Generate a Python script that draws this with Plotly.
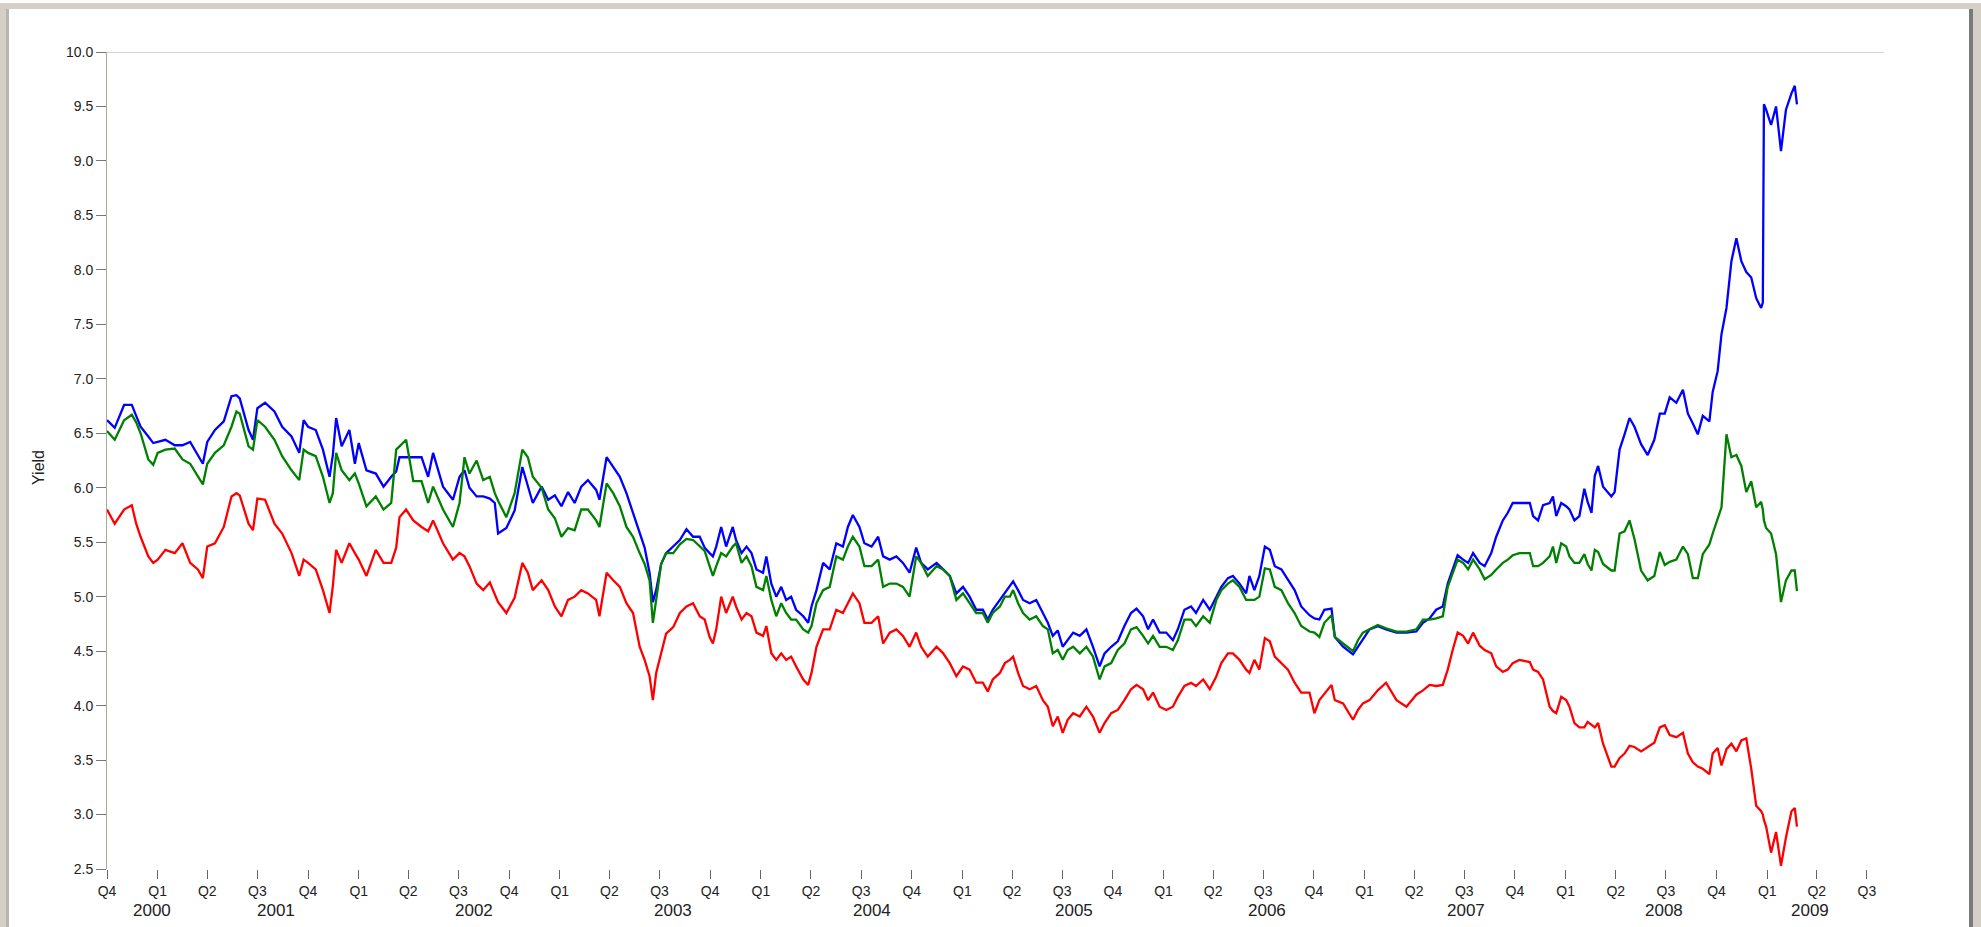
import plotly.graph_objects as go
import pandas as pd

START = pd.Timestamp("2000-10-01")
END = pd.Timestamp("2009-08-01")

# sample days counted from START, shared by the three series
DAYS = [
    0, 14, 31, 45, 53, 61, 75, 84, 92, 106, 123, 137, 151, 165, 174, 182, 196, 212, 226, 235,
    241, 257, 265, 273, 287, 304, 318, 335, 349, 357, 365, 379, 392, 404, 410, 416, 426, 440, 450, 457,
    471, 488, 502, 516, 525,
    531, 543, 556, 571, 583, 592, 610, 628, 640, 649, 658, 671, 683, 695, 704, 710, 725, 740, 754, 764,
    773, 789, 801, 813, 825, 837, 849, 861, 873, 888, 894, 907, 919, 931, 943, 955, 967, 976, 985, 991,
    997, 1006, 1015, 1028, 1040, 1052, 1064, 1076, 1085, 1094,
    1100, 1106, 1115, 1124, 1136, 1142, 1152, 1161, 1170, 1179, 1191, 1197, 1206, 1215, 1224, 1233, 1242, 1251, 1264, 1273,
    1279, 1288, 1300, 1312, 1324, 1336, 1345, 1354, 1366, 1375, 1388, 1400, 1409, 1421, 1433, 1445, 1457, 1469, 1478, 1490,
    1506, 1518, 1530, 1542, 1554, 1566, 1578, 1590, 1599, 1608, 1621, 1630, 1639,
    1645, 1654, 1663, 1675, 1687, 1699, 1708, 1717, 1726, 1735, 1744, 1754, 1766, 1778, 1790, 1802, 1811, 1823, 1835, 1847,
    1859, 1869, 1881, 1890, 1899, 1911, 1923, 1935, 1944, 1956, 1968, 1977, 1990, 2002, 2014, 2023, 2035, 2044, 2056, 2068,
    2074, 2083, 2092, 2102, 2111, 2120, 2132, 2144, 2156, 2168, 2183,
    2192, 2201, 2210, 2223, 2229, 2244, 2262, 2271, 2280, 2292, 2307, 2322, 2341, 2359, 2377, 2389, 2401, 2413, 2425, 2434,
    2443, 2452, 2462, 2471, 2480, 2492, 2501, 2513, 2522, 2534, 2543, 2552, 2564, 2583, 2589, 2598, 2607, 2619, 2625, 2631,
    2640, 2649, 2655, 2664, 2673,
    2682, 2688, 2695, 2701, 2707, 2716, 2731, 2737, 2746, 2755, 2764, 2773, 2785, 2797, 2809, 2819, 2828, 2837, 2849, 2861,
    2870, 2879, 2888, 2897, 2909, 2915, 2924, 2931, 2940, 2949, 2958, 2967, 2976, 2985, 2994, 3003, 3006, 3008, 3012, 3021,
    3030, 3039, 3048, 3058, 3064, 3068,
]

BLUE = [
    6.62, 6.55, 6.76, 6.76, 6.66, 6.56, 6.47, 6.41, 6.42, 6.44, 6.39, 6.39, 6.42, 6.29, 6.22, 6.42, 6.53, 6.61, 6.84, 6.85,
    6.82, 6.53, 6.44, 6.73, 6.78, 6.70, 6.56, 6.47, 6.32, 6.62, 6.56, 6.53, 6.35, 6.10, 6.30, 6.64, 6.38, 6.53, 6.22, 6.41,
    6.16, 6.13, 6.01, 6.10, 6.15,
    6.28, 6.28, 6.28, 6.28, 6.10, 6.32, 6.01, 5.89, 6.10, 6.16, 6.00, 5.92, 5.92, 5.90, 5.86, 5.58, 5.63, 5.79, 6.19, 6.01,
    5.86, 6.01, 5.89, 5.93, 5.83, 5.96, 5.86, 6.01, 6.07, 5.98, 5.89, 6.28, 6.19, 6.10, 5.95, 5.77, 5.58, 5.45, 5.22, 4.95,
    5.06, 5.30, 5.40, 5.46, 5.52, 5.62, 5.55, 5.55, 5.45, 5.40,
    5.37, 5.46, 5.64, 5.46, 5.64, 5.52, 5.40, 5.46, 5.40, 5.25, 5.22, 5.37, 5.12, 5.00, 5.09, 4.97, 5.00, 4.88, 4.82, 4.76,
    4.91, 5.06, 5.31, 5.25, 5.49, 5.46, 5.64, 5.75, 5.64, 5.49, 5.46, 5.55, 5.37, 5.34, 5.37, 5.31, 5.22, 5.45, 5.31, 5.25,
    5.31, 5.25, 5.19, 5.03, 5.09, 5.00, 4.88, 4.88, 4.79, 4.88, 4.97, 5.03, 5.09,
    5.14, 5.06, 4.97, 4.94, 4.97, 4.85, 4.76, 4.64, 4.69, 4.54, 4.60, 4.67, 4.64, 4.70, 4.54, 4.36, 4.48, 4.54, 4.59, 4.73,
    4.85, 4.89, 4.82, 4.70, 4.79, 4.67, 4.67, 4.60, 4.70, 4.88, 4.91, 4.85, 4.97, 4.88, 5.00, 5.09, 5.17, 5.19, 5.12, 5.03,
    5.19, 5.06, 5.19, 5.46, 5.43, 5.28, 5.25, 5.15, 5.06, 4.91, 4.83,
    4.80, 4.79, 4.88, 4.89, 4.63, 4.54, 4.47, 4.54, 4.60, 4.70, 4.73, 4.70, 4.67, 4.67, 4.68, 4.76, 4.80, 4.88, 4.91, 5.12,
    5.25, 5.38, 5.34, 5.31, 5.40, 5.31, 5.28, 5.40, 5.55, 5.70, 5.77, 5.86, 5.86, 5.86, 5.74, 5.70, 5.84, 5.86, 5.92, 5.74,
    5.86, 5.83, 5.80, 5.70, 5.74,
    5.99, 5.87, 5.77, 6.11, 6.20, 6.01, 5.92, 5.96, 6.35, 6.49, 6.64, 6.56, 6.40, 6.30, 6.44, 6.68, 6.68, 6.83, 6.78, 6.90,
    6.68, 6.59, 6.49, 6.66, 6.61, 6.88, 7.07, 7.41, 7.65, 8.08, 8.29, 8.08, 7.98, 7.93, 7.74, 7.65, 7.70, 9.52, 9.47, 9.33,
    9.50, 9.09, 9.47, 9.62, 9.69, 9.52,
]

GREEN = [
    6.52, 6.44, 6.62, 6.67, 6.60, 6.50, 6.26, 6.21, 6.32, 6.35, 6.36, 6.26, 6.22, 6.10, 6.03, 6.22, 6.32, 6.39, 6.56, 6.70,
    6.68, 6.38, 6.35, 6.62, 6.56, 6.44, 6.29, 6.16, 6.07, 6.35, 6.32, 6.29, 6.10, 5.86, 5.95, 6.32, 6.16, 6.07, 6.13, 6.04,
    5.83, 5.92, 5.80, 5.86, 6.35,
    6.38, 6.44, 6.06, 6.06, 5.86, 6.01, 5.80, 5.64, 5.86, 6.28, 6.13, 6.25, 6.07, 6.10, 5.95, 5.88, 5.73, 5.95, 6.35, 6.28,
    6.10, 6.00, 5.80, 5.72, 5.55, 5.63, 5.61, 5.80, 5.80, 5.70, 5.64, 6.04, 5.95, 5.83, 5.64, 5.55, 5.40, 5.30, 5.15, 4.76,
    4.97, 5.30, 5.40, 5.40, 5.48, 5.53, 5.52, 5.46, 5.42, 5.28,
    5.19, 5.28, 5.40, 5.37, 5.46, 5.49, 5.31, 5.37, 5.28, 5.09, 5.06, 5.19, 4.97, 4.82, 4.94, 4.85, 4.79, 4.79, 4.70, 4.67,
    4.73, 4.94, 5.06, 5.09, 5.37, 5.34, 5.46, 5.55, 5.46, 5.28, 5.28, 5.34, 5.09, 5.12, 5.12, 5.09, 5.00, 5.37, 5.31, 5.19,
    5.28, 5.25, 5.19, 4.97, 5.03, 4.94, 4.85, 4.85, 4.76, 4.85, 4.91, 5.00, 5.00,
    5.06, 4.94, 4.85, 4.79, 4.82, 4.73, 4.70, 4.48, 4.51, 4.42, 4.51, 4.54, 4.48, 4.54, 4.45, 4.24, 4.36, 4.39, 4.51, 4.57,
    4.70, 4.72, 4.64, 4.57, 4.64, 4.54, 4.54, 4.51, 4.60, 4.79, 4.79, 4.73, 4.82, 4.76, 4.97, 5.06, 5.12, 5.15, 5.09, 4.97,
    4.97, 4.97, 5.00, 5.26, 5.25, 5.09, 5.06, 4.94, 4.85, 4.73, 4.68,
    4.67, 4.63, 4.76, 4.83, 4.63, 4.57, 4.50, 4.60, 4.67, 4.70, 4.74, 4.71, 4.68, 4.68, 4.70, 4.79, 4.79, 4.80, 4.82, 5.09,
    5.22, 5.34, 5.31, 5.25, 5.34, 5.25, 5.16, 5.20, 5.25, 5.31, 5.34, 5.38, 5.40, 5.40, 5.28, 5.28, 5.31, 5.37, 5.46, 5.31,
    5.49, 5.46, 5.37, 5.31, 5.31,
    5.39, 5.30, 5.24, 5.43, 5.41, 5.30, 5.24, 5.24, 5.58, 5.60, 5.70, 5.53, 5.24, 5.15, 5.19, 5.41, 5.29, 5.32, 5.34, 5.46,
    5.39, 5.17, 5.17, 5.39, 5.48, 5.58, 5.72, 5.82, 6.49, 6.28, 6.30, 6.20, 5.96, 6.06, 5.82, 5.87, 5.80, 5.70, 5.63, 5.58,
    5.39, 4.95, 5.15, 5.24, 5.24, 5.05,
]

RED = [
    5.80, 5.67, 5.80, 5.84, 5.67, 5.55, 5.37, 5.31, 5.34, 5.43, 5.40, 5.49, 5.31, 5.25, 5.17, 5.46, 5.49, 5.64, 5.92, 5.95,
    5.93, 5.67, 5.61, 5.90, 5.89, 5.67, 5.58, 5.40, 5.19, 5.34, 5.31, 5.25, 5.06, 4.85, 5.10, 5.43, 5.31, 5.49, 5.40, 5.34,
    5.19, 5.43, 5.31, 5.31, 5.45,
    5.73, 5.80, 5.70, 5.64, 5.60, 5.70, 5.49, 5.34, 5.40, 5.37, 5.28, 5.12, 5.06, 5.13, 5.03, 4.95, 4.85, 4.99, 5.31, 5.22,
    5.06, 5.15, 5.06, 4.91, 4.82, 4.97, 5.00, 5.06, 5.03, 4.97, 4.82, 5.22, 5.15, 5.09, 4.94, 4.85, 4.54, 4.42, 4.27, 4.05,
    4.30, 4.48, 4.66, 4.72, 4.85, 4.91, 4.94, 4.82, 4.79, 4.63,
    4.57, 4.70, 5.00, 4.85, 5.00, 4.91, 4.79, 4.85, 4.82, 4.67, 4.64, 4.73, 4.48, 4.42, 4.48, 4.42, 4.45, 4.36, 4.24, 4.19,
    4.30, 4.54, 4.70, 4.70, 4.88, 4.85, 4.94, 5.03, 4.94, 4.76, 4.76, 4.82, 4.57, 4.67, 4.70, 4.64, 4.54, 4.67, 4.54, 4.45,
    4.54, 4.48, 4.39, 4.27, 4.36, 4.33, 4.21, 4.21, 4.13, 4.24, 4.30, 4.39, 4.42,
    4.45, 4.30, 4.18, 4.15, 4.18, 4.05, 3.99, 3.81, 3.90, 3.75, 3.87, 3.93, 3.90, 3.99, 3.90, 3.75, 3.84, 3.93, 3.96, 4.05,
    4.15, 4.19, 4.15, 4.05, 4.12, 3.99, 3.96, 3.99, 4.08, 4.18, 4.21, 4.18, 4.24, 4.15, 4.27, 4.39, 4.48, 4.48, 4.42, 4.33,
    4.30, 4.42, 4.33, 4.62, 4.59, 4.45, 4.39, 4.33, 4.21, 4.12, 4.12,
    3.93, 4.05, 4.11, 4.19, 4.05, 4.02, 3.87, 3.96, 4.02, 4.05, 4.14, 4.21, 4.05, 3.99, 4.10, 4.14, 4.19, 4.18, 4.19, 4.33,
    4.51, 4.67, 4.64, 4.57, 4.67, 4.55, 4.51, 4.48, 4.36, 4.31, 4.33, 4.39, 4.42, 4.40, 4.33, 4.31, 4.24, 3.99, 3.95, 3.93,
    4.08, 4.05, 3.99, 3.84, 3.80,
    3.80, 3.85, 3.82, 3.80, 3.84, 3.65, 3.44, 3.44, 3.52, 3.56, 3.63, 3.62, 3.58, 3.62, 3.66, 3.80, 3.82, 3.73, 3.71, 3.75,
    3.56, 3.48, 3.44, 3.42, 3.37, 3.56, 3.61, 3.45, 3.60, 3.65, 3.58, 3.68, 3.70, 3.42, 3.08, 3.03, 3.00, 2.95, 2.89, 2.65,
    2.84, 2.53, 2.79, 3.03, 3.06, 2.89,
]

YEARS = ["2000", "2001", "2002", "2003", "2004", "2005", "2006", "2007", "2008", "2009"]
# where each year caption sits under the quarter labels
YEAR_LABEL_AT = ["2000-12-21", "2001-08-03", "2002-07-29", "2003-07-25", "2004-07-20",
                 "2005-07-22", "2006-07-07", "2007-07-04", "2008-06-28", "2009-03-19"]

assert len(DAYS) == len(BLUE) == len(GREEN) == len(RED)

FIG_W, FIG_H = 1981, 927
M_L, M_R, M_T, M_B = 107, 97, 52, 58
PLOT_W = FIG_W - M_L - M_R
PLOT_H = FIG_H - M_T - M_B
AXIS_GREY = "#ACA899"
FRAME_GREY = "#D4D0C8"
TEXT = "#222222"
FONT = "Liberation Sans, Arial, sans-serif"


def px_x(p):
    return (p - M_L) / PLOT_W


def px_y(p):
    return 1 - (p - M_T) / PLOT_H


dates = START + pd.to_timedelta(DAYS, unit="D")
quarters = pd.date_range(START, "2009-07-01", freq="QS")

fig = go.Figure()
for name, vals, color in [("Blue", BLUE, "#0000FF"), ("Green", GREEN, "#008000"), ("Red", RED, "#FF0000")]:
    fig.add_trace(go.Scatter(
        x=dates, y=vals, mode="lines", name=name,
        line=dict(color=color, width=2.3),
    ))

shapes = [
    # top border of the plot at 10.0
    dict(type="line", xref="paper", yref="y", x0=0, x1=1, y0=10, y1=10,
         line=dict(color=AXIS_GREY, width=1)),
    # window frame
    dict(type="rect", xref="paper", yref="paper", x0=px_x(0), x1=px_x(9),
         y0=px_y(FIG_H), y1=px_y(3), fillcolor=FRAME_GREY, line=dict(width=0), layer="below"),
    dict(type="rect", xref="paper", yref="paper", x0=px_x(6), x1=px_x(9),
         y0=px_y(FIG_H), y1=px_y(9), fillcolor="#B8B5AE", line=dict(width=0), layer="below"),
    dict(type="rect", xref="paper", yref="paper", x0=px_x(0), x1=px_x(FIG_W),
         y0=px_y(9), y1=px_y(3), fillcolor=FRAME_GREY, line=dict(width=0), layer="below"),
    dict(type="rect", xref="paper", yref="paper", x0=px_x(1969), x1=px_x(1973),
         y0=px_y(FIG_H), y1=px_y(9), fillcolor="#7A7A7A", line=dict(width=0), layer="below"),
    dict(type="rect", xref="paper", yref="paper", x0=px_x(1973), x1=px_x(FIG_W),
         y0=px_y(FIG_H), y1=px_y(3), fillcolor=FRAME_GREY, line=dict(width=0), layer="below"),
]

annotations = [
    dict(text=yr, x=pd.Timestamp(at), xref="x", y=px_y(910), yref="paper",
         showarrow=False, xanchor="center", yanchor="middle",
         font=dict(family=FONT, size=17, color=TEXT))
    for yr, at in zip(YEARS, YEAR_LABEL_AT)
]
annotations.append(dict(
    text="Yield", x=px_x(38), xref="paper", y=px_y(468), yref="paper",
    showarrow=False, textangle=-90, xanchor="center", yanchor="middle",
    font=dict(family=FONT, size=16, color=TEXT),
))

fig.update_layout(
    width=FIG_W, height=FIG_H,
    margin=dict(l=M_L, r=M_R, t=M_T, b=M_B, pad=0),
    paper_bgcolor="white", plot_bgcolor="white",
    showlegend=False,
    font=dict(family=FONT, size=14, color=TEXT),
    shapes=shapes,
    annotations=annotations,
)
fig.update_xaxes(
    type="date", range=[START, END],
    tickvals=quarters, ticktext=[f"Q{q.quarter}" for q in quarters],
    ticks="outside", ticklen=9, tickcolor="#666666", tickwidth=1,
    showline=False, showgrid=False, zeroline=False,
    tickfont=dict(family=FONT, size=14, color=TEXT),
)
fig.update_yaxes(
    range=[2.5, 10], dtick=0.5, tickformat=".1f",
    ticks="outside", ticklen=10, tickcolor="#777777", tickwidth=1,
    showline=True, linecolor=AXIS_GREY, linewidth=1,
    showgrid=False, zeroline=False,
    tickfont=dict(family=FONT, size=14, color=TEXT),
)

fig.write_html(
    "out.html",
    config={"displayModeBar": False},
    post_script="document.body.style.margin='0';document.body.style.overflow='hidden';",
)
